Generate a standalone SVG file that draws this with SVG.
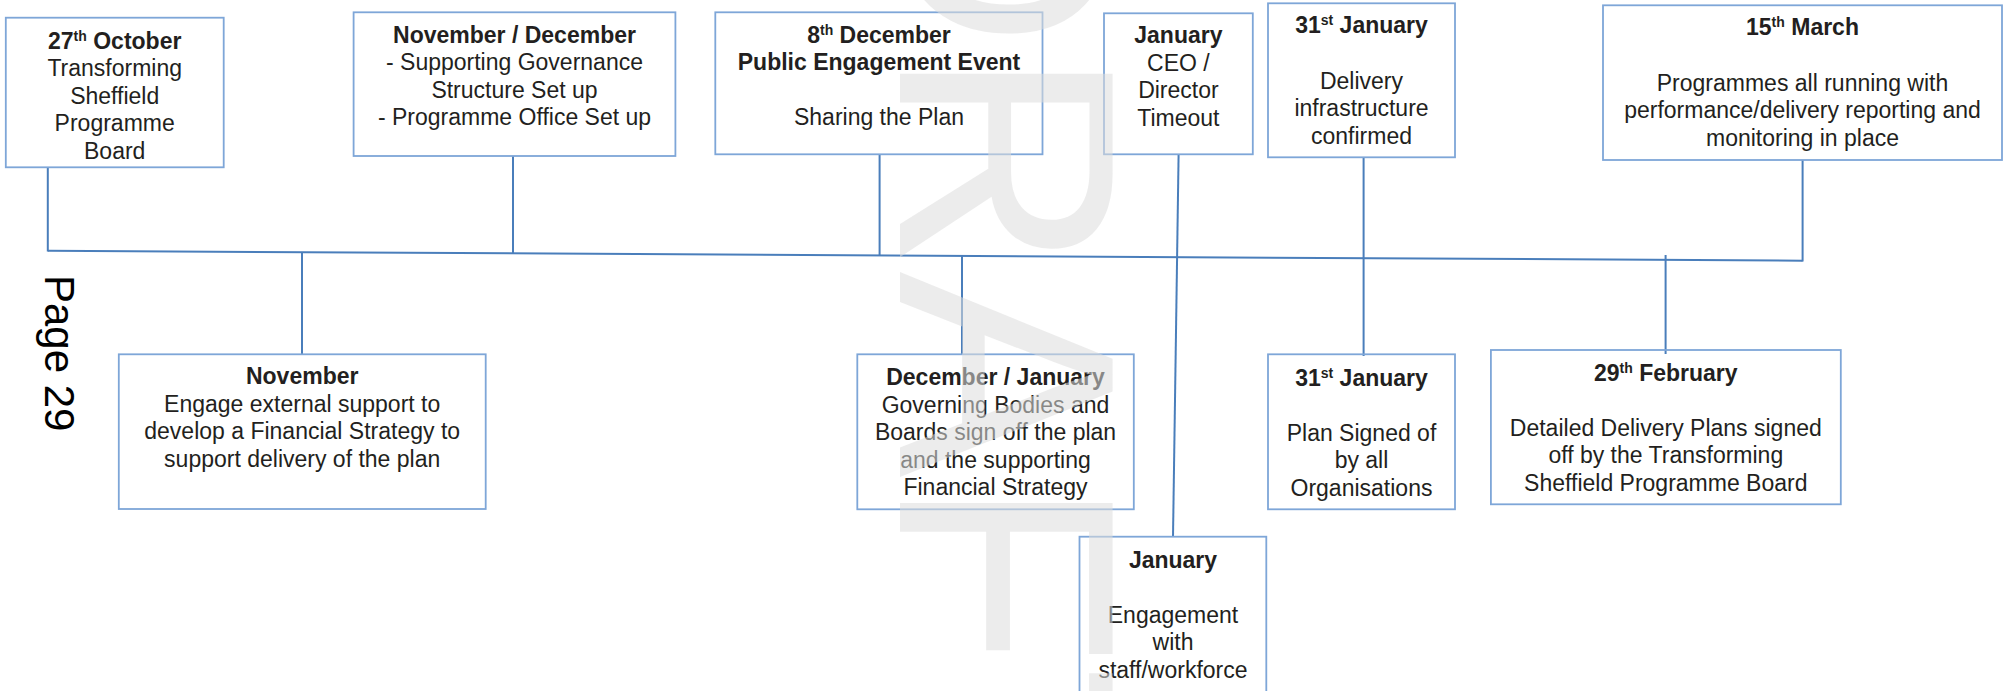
<svg xmlns="http://www.w3.org/2000/svg" width="2007" height="691" viewBox="0 0 2007 691">
<style>
.bg{fill:#ffffff}
.box{fill:none;stroke:#7ea6d8;stroke-width:1.8}
.con{fill:none;stroke:#4a7ebb;stroke-width:2}
text{font-family:"Liberation Sans",Arial,sans-serif;font-size:23px;fill:#231f20;text-anchor:middle}
.b{font-weight:bold}
.sup{font-size:14px}
.page{font-size:42px;fill:#000000;text-anchor:start}
.wm{font-size:309px;fill:#dcdcdc;fill-opacity:0.55;text-anchor:start}
</style>
<rect class="bg" x="0" y="0" width="2007" height="691"/>

<g id="connectors">
<line class="con" x1="47.8" y1="250.7" x2="1802.6" y2="260.7"/>
<line class="con" x1="47.8" y1="167.3" x2="47.8" y2="251.5"/>
<line class="con" x1="513" y1="156" x2="513" y2="254"/>
<line class="con" x1="879.6" y1="154.3" x2="879.6" y2="256"/>
<line class="con" x1="1178.6" y1="154.3" x2="1173" y2="536.7"/>
<line class="con" x1="1363.6" y1="157.3" x2="1363.6" y2="356"/>
<line class="con" x1="1802.6" y1="160" x2="1802.6" y2="261.5"/>
<line class="con" x1="302" y1="252.1" x2="302" y2="354.3"/>
<line class="con" x1="962" y1="255.8" x2="962" y2="354.3"/>
<line class="con" x1="1665.6" y1="255" x2="1665.6" y2="354"/>
</g>

<g id="n1">
<rect class="box" x="5.8" y="17.7" width="217.9" height="149.6"/>
<text x="114.7" y="48.5" class="b">27<tspan class="sup" dy="-8">th</tspan><tspan dy="8"> October</tspan></text>
<text x="114.7" y="76">Transforming</text>
<text x="114.7" y="103.5">Sheffield</text>
<text x="114.7" y="131">Programme</text>
<text x="114.7" y="158.5">Board</text>
</g>

<g id="n2">
<rect class="box" x="353.6" y="12.3" width="321.8" height="143.7"/>
<text x="514.5" y="42.7" class="b">November / December</text>
<text x="514.5" y="70.2">- Supporting Governance</text>
<text x="514.5" y="97.7">Structure Set up</text>
<text x="514.5" y="125.2">- Programme Office Set up</text>
</g>

<g id="n3">
<rect class="box" x="715.3" y="12.3" width="327.2" height="142"/>
<text x="879" y="42.7" class="b">8<tspan class="sup" dy="-8">th</tspan><tspan dy="8"> December</tspan></text>
<text x="879" y="70.2" class="b">Public Engagement Event</text>
<text x="879" y="125.2">Sharing the Plan</text>
</g>

<g id="n4">
<rect class="box" x="1104" y="13.3" width="148.8" height="141"/>
<text x="1178.4" y="43.3" class="b">January</text>
<text x="1178.4" y="70.8">CEO /</text>
<text x="1178.4" y="98.3">Director</text>
<text x="1178.4" y="125.8">Timeout</text>
</g>

<g id="n5">
<rect class="box" x="1268" y="3.3" width="187" height="154"/>
<text x="1361.5" y="33.3" class="b">31<tspan class="sup" dy="-8">st</tspan><tspan dy="8"> January</tspan></text>
<text x="1361.5" y="88.5">Delivery</text>
<text x="1361.5" y="116">infrastructure</text>
<text x="1361.5" y="143.5">confirmed</text>
</g>

<g id="n6">
<rect class="box" x="1603" y="5.3" width="399" height="154.7"/>
<text x="1802.5" y="35" class="b">15<tspan class="sup" dy="-8">th</tspan><tspan dy="8"> March</tspan></text>
<text x="1802.5" y="90.7">Programmes all running with</text>
<text x="1802.5" y="118.2">performance/delivery reporting and</text>
<text x="1802.5" y="145.7">monitoring in place</text>
</g>

<g id="n7">
<rect class="box" x="118.8" y="354.3" width="366.9" height="154.7"/>
<text x="302.2" y="384" class="b">November</text>
<text x="302.2" y="411.5">Engage external support to</text>
<text x="302.2" y="439">develop a Financial Strategy to</text>
<text x="302.2" y="466.5">support delivery of the plan</text>
</g>

<g id="n8">
<rect class="box" x="857.3" y="354.3" width="276.5" height="155"/>
<text x="995.5" y="385.3" class="b">December / January</text>
<text x="995.5" y="412.8">Governing Bodies and</text>
<text x="995.5" y="440.3">Boards sign off the plan</text>
<text x="995.5" y="467.8">and the supporting</text>
<text x="995.5" y="495.3">Financial Strategy</text>
</g>

<g id="n9">
<rect class="box" x="1268" y="354.3" width="187" height="155"/>
<text x="1361.5" y="385.7" class="b">31<tspan class="sup" dy="-8">st</tspan><tspan dy="8"> January</tspan></text>
<text x="1361.5" y="440.7">Plan Signed of</text>
<text x="1361.5" y="468.2">by all</text>
<text x="1361.5" y="495.7">Organisations</text>
</g>

<g id="n10">
<rect class="box" x="1079.5" y="536.7" width="186.8" height="170"/>
<text x="1173" y="567.7" class="b">January</text>
<text x="1173" y="622.7">Engagement</text>
<text x="1173" y="650.2">with</text>
<text x="1173" y="677.7">staff/workforce</text>
</g>

<g id="n11">
<rect class="box" x="1490.9" y="350" width="349.9" height="154.3"/>
<text x="1665.8" y="380.7" class="b">29<tspan class="sup" dy="-8">th</tspan><tspan dy="8"> February</tspan></text>
<text x="1665.8" y="435.5">Detailed Delivery Plans signed</text>
<text x="1665.8" y="463">off by the Transforming</text>
<text x="1665.8" y="490.5">Sheffield Programme Board</text>
</g>

<g id="page-label">
<text class="page" x="0" y="0" transform="translate(45,275) rotate(90)">Page 29</text>
</g>

<g id="watermark">
<text class="wm" x="0" y="0" transform="translate(900,-174.8) rotate(90)">DRAFT</text>
</g>
</svg>
